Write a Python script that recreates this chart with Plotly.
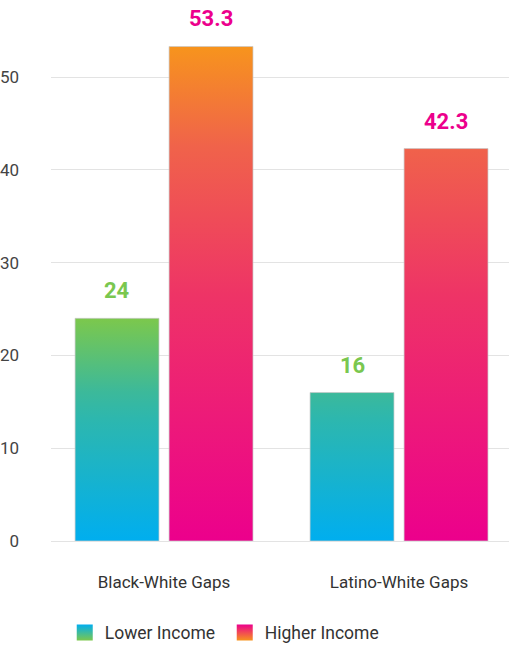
import plotly.graph_objects as go

categories = ["Black-White Gaps", "Latino-White Gaps"]
series_names = ["Lower Income", "Higher Income"]
lower_income = [24, 16]
higher_income = [53.3, 42.3]
y_ticks = [0, 10, 20, 30, 40, 50]

label_colors = ["#7AC74F", "#EC008C"]
scales = [
    [[0, "#00AEEF"], [0.55, "#2DB7AE"], [0.67, "#3CB99A"], [1, "#7CC84C"]],
    [[0, "#EC008C"], [0.5, "#EE3466"], [0.8, "#F0634A"], [1, "#F7941D"]],
]
legend_top = ["#00AEEF", "#EC008C"]
legend_bottom = ["#7CC84C", "#F7941D"]
offsets = [-0.2, 0.2]
bar_w = 0.357
FONT = "Roboto"

fig = go.Figure()
all_series = [lower_income, higher_income]
grad_top = [max(lower_income), max(higher_income)]
for si, (name, vals) in enumerate(zip(series_names, all_series)):
    xs, ys = [], []
    for ci, v in enumerate(vals):
        xc = ci + offsets[si]
        x0, x1 = xc - bar_w / 2, xc + bar_w / 2
        xs += [x0, x0, x1, x1, x0, None]
        ys += [0, v, v, 0, 0, None]
    fig.add_trace(go.Scatter(
        x=xs, y=ys, name=name, mode="lines", fill="toself",
        line=dict(color="rgba(200,200,200,0.7)", width=1),
        fillgradient=dict(type="vertical", colorscale=scales[si], start=0, stop=grad_top[si]),
        hoverinfo="skip", showlegend=False,
    ))
    # legend-only entry
    fig.add_trace(go.Scatter(
        x=[None], y=[None], name=name, mode="markers",
        marker=dict(symbol="square", size=24, color=legend_top[si],
                    gradient=dict(type="vertical", color=legend_bottom[si]),
                    line=dict(width=0)),
        showlegend=True,
    ))
    for ci, v in enumerate(vals):
        fig.add_annotation(
            x=ci + offsets[si], y=v, text=f"<b>{v:g}</b>", showarrow=False,
            yanchor="bottom", yshift=13,
            font=dict(family=FONT, size=22, color=label_colors[si]),
        )

fig.update_layout(
    width=509, height=649,
    margin=dict(l=51, r=0, t=40, b=108, autoexpand=False),
    paper_bgcolor="white", plot_bgcolor="white",
    font=dict(family=FONT, color="#444444"),
    showlegend=True,
    legend=dict(orientation="h", x=0.03, xanchor="left", y=-0.183, yanchor="middle",
                entrywidth=115, entrywidthmode="pixels",
                font=dict(family=FONT, size=17.5, color="#333333"), traceorder="normal"),
    xaxis=dict(
        range=[-0.481, 1.468], tickvals=[0, 1], ticktext=categories,
        showgrid=False, zeroline=False, showline=False, automargin=False,
        ticks="", ticklabelstandoff=29,
        tickfont=dict(family=FONT, size=17, color="#333333"), fixedrange=True,
    ),
    yaxis=dict(
        range=[0, 54], tickvals=y_ticks, showgrid=True, gridcolor="#E3E3E3", gridwidth=1,
        zeroline=True, zerolinecolor="#E3E3E3", zerolinewidth=1, automargin=False,
        showline=False, ticks="", ticklabelstandoff=31,
        tickfont=dict(family=FONT, size=17, color="#444444"), fixedrange=True,
    ),
)

fig.write_html("out.html", config={"displayModeBar": False},
               post_script="document.body.style.margin='0px';")
